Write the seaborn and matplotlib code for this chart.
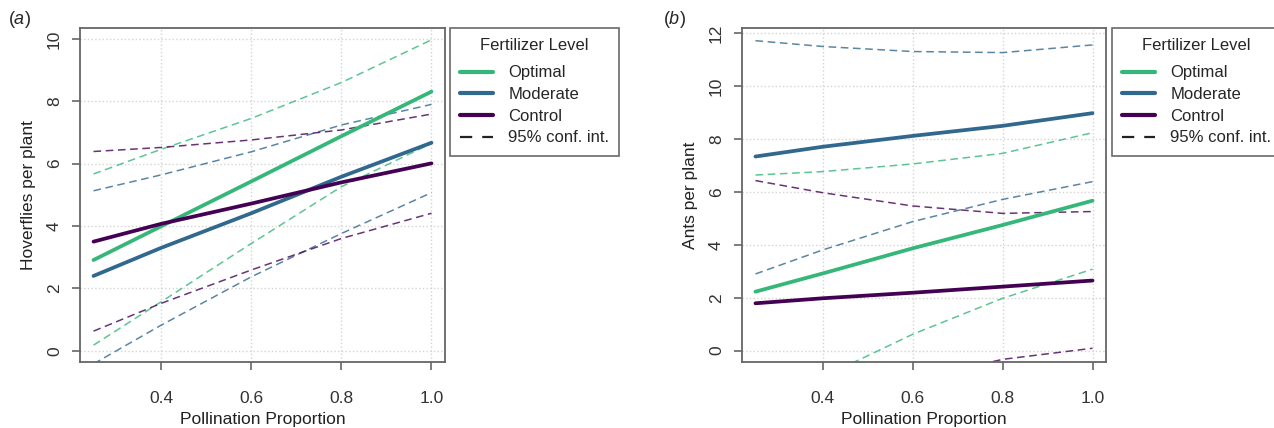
import numpy as np
import pandas as pd
import matplotlib
matplotlib.use('Agg')
import matplotlib.pyplot as plt
from matplotlib.lines import Line2D
import seaborn as sns

# --- data ---
levels = ['Optimal', 'Moderate', 'Control']
colors = {'Optimal': '#35B779', 'Moderate': '#31688E', 'Control': '#440154'}
pollination = [0.25, 0.4, 0.6, 0.8, 1.0]

# (a) Hoverflies per plant
hov_fit = {
    'Optimal':  [2.91, 3.99, 5.43, 6.88, 8.31],
    'Moderate': [2.40, 3.30, 4.41, 5.58, 6.67],
    'Control':  [3.50, 4.07, 4.72, 5.40, 6.01],
}
hov_upper = {
    'Optimal':  [5.67, 6.46, 7.45, 8.60, 9.97],
    'Moderate': [5.13, 5.64, 6.38, 7.24, 7.90],
    'Control':  [6.39, 6.52, 6.76, 7.08, 7.59],
}
hov_lower = {
    'Optimal':  [0.18, 1.57, 3.44, 5.26, 6.65],
    'Moderate': [-0.42, 0.82, 2.37, 3.76, 5.07],
    'Control':  [0.63, 1.52, 2.59, 3.60, 4.41],
}

# (b) Ants per plant
ant_fit = {
    'Optimal':  [2.23, 2.92, 3.87, 4.75, 5.67],
    'Moderate': [7.34, 7.71, 8.12, 8.50, 8.98],
    'Control':  [1.79, 1.98, 2.19, 2.42, 2.65],
}
ant_upper = {
    'Optimal':  [6.64, 6.77, 7.06, 7.46, 8.24],
    'Moderate': [11.72, 11.50, 11.31, 11.27, 11.56],
    'Control':  [6.43, 5.97, 5.47, 5.19, 5.26],
}
ant_lower = {
    'Optimal':  [-2.5, -1.0, 0.62, 1.98, 3.08],
    'Moderate': [2.90, 3.81, 4.88, 5.72, 6.39],
    'Control':  [-2.6, -1.9, -1.1, -0.33, 0.09],
}


def to_frame(fit, upper, lower):
    rows = []
    for lev in levels:
        for i, x in enumerate(pollination):
            rows.append({'x': x, 'level': lev, 'fit': fit[lev][i],
                         'upper': upper[lev][i], 'lower': lower[lev][i]})
    return pd.DataFrame(rows)


sns.set_style('white')
plt.rcParams['font.family'] = ['Liberation Sans', 'DejaVu Sans']
plt.rcParams['mathtext.fontset'] = 'custom'
plt.rcParams['mathtext.rm'] = 'Liberation Sans'
plt.rcParams['mathtext.it'] = 'Liberation Sans:italic'

fig = plt.figure(figsize=(12.74, 4.28), dpi=100)
ax_a = fig.add_axes([80 / 1274, 1 - 362 / 428, 365 / 1274, 334 / 428])
ax_b = fig.add_axes([742 / 1274, 1 - 362 / 428, 364 / 1274, 334 / 428])


def draw_panel(ax, df, ylabel, ylim, yticks):
    for col in ['upper', 'lower']:
        sns.lineplot(data=df, x='x', y=col, hue='level', palette=colors,
                     hue_order=levels, ax=ax, legend=False, lw=1.1,
                     alpha=0.8, estimator=None)
    for line in ax.get_lines():
        line.set_dashes((5, 3))
    sns.lineplot(data=df, x='x', y='fit', hue='level', palette=colors,
                 hue_order=levels, ax=ax, legend=False, lw=2.7,
                 estimator=None)
    ax.set_xlim(0.22, 1.03)
    ax.set_ylim(*ylim)
    ax.set_xticks([0.4, 0.6, 0.8, 1.0])
    ax.set_xticklabels(['0.4', '0.6', '0.8', '1.0'])
    ax.set_yticks(yticks)
    ax.set_yticklabels([str(t) for t in yticks], rotation=90, va='center')
    ax.grid(True, linestyle=':', color='#d4d4d4', lw=1.0)
    ax.set_axisbelow(True)
    for sp in ax.spines.values():
        sp.set_color('#666666')
        sp.set_linewidth(1.3)
    ax.tick_params(axis='both', direction='out', length=6, width=1.2,
                   color='#666666', labelcolor='#333333', labelsize=12.5,
                   bottom=True, left=True)
    ax.tick_params(axis='x', pad=15)
    ax.tick_params(axis='y', pad=7)
    ax.set_xlabel('Pollination Proportion', fontsize=12.5, color='#222222', labelpad=4)
    ax.set_ylabel(ylabel, fontsize=12.5, color='#222222', labelpad=8)


draw_panel(ax_a, to_frame(hov_fit, hov_upper, hov_lower),
           'Hoverflies per plant', (-0.36, 10.35), [0, 2, 4, 6, 8, 10])
draw_panel(ax_b, to_frame(ant_fit, ant_upper, ant_lower),
           'Ants per plant', (-0.43, 12.2), [0, 2, 4, 6, 8, 10, 12])

handles = [Line2D([], [], color=colors[l], lw=3) for l in levels]
handles.append(Line2D([], [], color='#222222', lw=1.6, dashes=(5.5, 4.5)))
labels = levels + ['95% conf. int.']

for left in [450 / 1274, 1112 / 1274]:
    leg = fig.legend(handles, labels, title='Fertilizer Level',
                     loc='upper left', bbox_to_anchor=(left, 1 - 28 / 428),
                     fontsize=12, title_fontsize=12, frameon=True,
                     fancybox=False, handlelength=2.0, handletextpad=0.9,
                     labelspacing=0.4, borderpad=0.6, borderaxespad=0)
    leg._legend_box.sep = 9
    leg.get_frame().set_edgecolor('#444444')
    leg.get_frame().set_linewidth(1.2)

fig.text(8 / 1274, 1 - 20 / 428, r'($\it{a}$)', fontsize=13, va='center')
fig.text(663 / 1274, 1 - 20 / 428, r'($\it{b}$)', fontsize=13, va='center')

fig.savefig('out.png', dpi=100)
